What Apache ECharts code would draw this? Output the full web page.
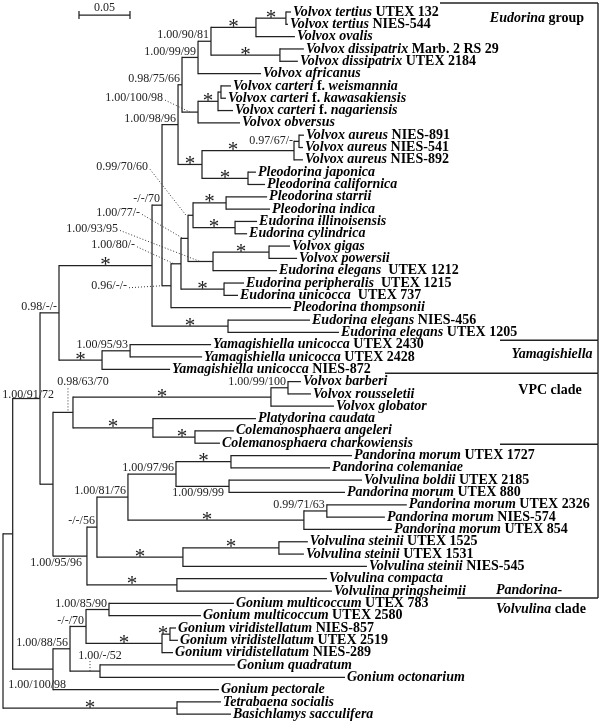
<!DOCTYPE html>
<html>
<head>
<meta charset="utf-8">
<script src="https://cdn.jsdelivr.net/npm/echarts@6/dist/echarts.min.js"></script>
<style>
html, body { margin: 0; background: #fff; }
#chart { width: 600px; height: 721px; }
</style>
</head>
<body>
<div id="chart"></div>
<script>
// taxa in tree order; '|' switches italic (name) / upright (strain)
const taxa = [
    'Volvox tertius|UTEX 132', 'Volvox tertius|NIES-544', 'Volvox ovalis',
    'Volvox dissipatrix|Marb. 2 RS 29', 'Volvox dissipatrix|UTEX 2184', 'Volvox africanus',
    'Volvox carteri|f.|weismannia', 'Volvox carteri|f.|kawasakiensis', 'Volvox carteri|f.|nagariensis',
    'Volvox obversus', 'Volvox aureus|NIES-891', 'Volvox aureus|NIES-541', 'Volvox aureus|NIES-892',
    'Pleodorina japonica', 'Pleodorina californica', 'Pleodorina starrii', 'Pleodorina indica',
    'Eudorina illinoisensis', 'Eudorina cylindrica', 'Volvox gigas', 'Volvox powersii',
    'Eudorina elegans| UTEX 1212', 'Eudorina peripheralis| UTEX 1215', 'Eudorina unicocca| UTEX 737',
    'Pleodorina thompsonii', 'Eudorina elegans|NIES-456', 'Eudorina elegans|UTEX 1205',
    'Yamagishiella unicocca|UTEX 2430', 'Yamagishiella unicocca|UTEX 2428', 'Yamagishiella unicocca|NIES-872',
    'Volvox barberi', 'Volvox rousseletii', 'Volvox globator', 'Platydorina caudata',
    'Colemanosphaera angeleri', 'Colemanosphaera charkowiensis',
    'Pandorina morum|UTEX 1727', 'Pandorina colemaniae', 'Volvulina boldii|UTEX 2185', 'Pandorina morum|UTEX 880',
    'Pandorina morum|UTEX 2326', 'Pandorina morum|NIES-574', 'Pandorina morum|UTEX 854',
    'Volvulina steinii|UTEX 1525', 'Volvulina steinii|UTEX 1531', 'Volvulina steinii|NIES-545',
    'Volvulina compacta', 'Volvulina pringsheimii',
    'Gonium multicoccum|UTEX 783', 'Gonium multicoccum|UTEX 2580',
    'Gonium viridistellatum|NIES-857', 'Gonium viridistellatum|UTEX 2519', 'Gonium viridistellatum|NIES-289',
    'Gonium quadratum', 'Gonium octonarium', 'Gonium pectorale',
    'Tetrabaena socialis', 'Basichlamys sacculifera'
];

// clades as newick (leaf = taxa index, node label = support, '*' = full support)
const volvoxA = '((((0:0.0049,1:0.0020)*:0.0294,2:0.0382)*:0.0441,(3:0.0235,4:0.0176)*:0.0676)1.00/90/81:0.0127,5:0.0618)1.00/99/99:0.0157';
const carteri = '(((6:0.0098,7:0.0049):0.0029,8:0.0147)*:0.0196,9:0.0412)1.00/100/98:0.0157';
const aureusPleo = '(((10:0.0049,11:0.0039)0.97/67/-:0.0049,12:0.0088)*:0.0902,(13:0.0078,14:0.0167)*:0.0451)*:0.0235';
const eudorinaCore = '((((15:0.0402,16:0.0431)*:0.0324,(17:0.0216,18:0.0118)*:0.0412)0.99/70/60:0.0049,((19:0.0206,20:0.0275)*:0.0549,21:0.0627)1.00/93/95:0.0245)1.00/77/-:0.0069,(22:0.0196,23:0.0137)*:0.0422)1.00/80/-:0.0098';
const eudorinaGroup = `((((${volvoxA},${carteri})0.98/75/66:0.0039,${aureusPleo})1.00/98/96:0.0157,(${eudorinaCore},24:0.1176)0.96/-/-:0.0088)-/-/70:0.0098,(25:0.0804,26:0.1088)*:0.0745)*:0.0912`;
const yamagishiella = '((27:0.0794,28:0.0706)1.00/95/93:0.0275,29:0.0667)*:0.0422';
const vpcClade = '(((30:0.0127,31:0.0225)1.00/99/100:0.0167,32:0.0618)*:0.1941,(33:0.1010,(34:0.0382,35:0.0245)*:0.0412)*:0.0784)0.98/63/70:0.0196';
const pandorinaVolvulina = '(((((36:0.1186,37:0.0971)*:0.0539,(38:0.1304,39:0.1137)1.00/99/99:0.0520)1.00/97/96:0.0471,((40:0.0784,41:0.0569)0.99/71/63:0.0225,42:0.0863)*:0.1725)1.00/81/76:0.0304,((43:0.0284,44:0.0245)*:0.0941,45:0.1804)*:0.0843)-/-/56:0.0098,(46:0.1471,47:0.1520)*:0.0882)1.00/95/96:0.0333';
const gonium = '((((48:0.1225,49:0.0902)1.00/85/90:0.0225,((50:0.0059,51:0.0078)*:0.0078,52:0.0108)*:0.0745)-/-/70:0.0157,(53:0.1324,54:0.2402)1.00/-/52:0.0294)1.00/88/56:0.0167,55:0.1627)1.00/100/98:0.0395';
const outgroup = '(56:0.0431,57:0.0529)*:0.1706';
const tree = `((((${eudorinaGroup},${yamagishiella})0.98/-/-:0.0186,(${vpcClade},${pandorinaVolvulina}):0.0127)1.00/91/72:0.0268,${gonium}):0.0095,${outgroup});`;

const scaleBar = 0.05;
const clades = [
    ['{i|Eudorina} {b|group}', 0, 26],
    ['{i|Yamagishiella}', 27, 29],
    ['{b|VPC clade}', 30, 35],
    ['{i|Pandorina-}\n{i|Volvulina} {b|clade}', 36, 47]
];

// ---- layout / styling ----
const FONT = '"Liberation Serif", "Times New Roman", serif';
const LINE = '#222';

// support label placement by node (first-last leaf)
const labelPlace = {
    '6-9': { type: 'leader', dx: -35, dy: -14, tx: -8 },
    '15-18': { type: 'leader', dx: -45, dy: -48, tx: -7 },
    '15-21': { type: 'leader', dx: -48, dy: -26, tx: -5 },
    '19-21': { type: 'leader', dx: -95, dy: -33, tx: -13 },
    '15-23': { type: 'leader', dx: -46, dy: -19, tx: -7 },
    '15-24': { type: 'leader', dx: -44, dy: 0, tx: -9 },
    '30-35': { type: 'vdot', dx: 10, dy: -31, lx: -5, ly: -24 },
    '53-54': { type: 'vdot', dx: 0, dy: -15, lx: -10, ly: -10 },
    '36-47': { type: 'side', dx: -5, dy: 7 },
    '38-39': { type: 'side', dx: -5, dy: 7 },
    '48-55': { type: 'side', dx: 13, dy: 16 },
    '0-47': { type: 'side', dx: 14, dy: -4 },
    '10-11': { type: 'side', dx: -6, dy: -1 }
};
const starShift = { '10-12': -15, '30-32': -10, '40-42': -9, '34-35': 8, '50-51': -3 };
const starDy = 0;

// bracket geometry (px)
const bracketRight = 598;
const bracketTopLine = 440;
const bracketLines = [[8, 500], [4, 385], [1, 500], [7, 457]];  // [y shift below last leaf, start x]
const bracketLabels = [[537, 18, 'center'], [552, 354, 'center'], [550, 390, 'center'], [496, 600, 'left']];

function parseNewick(s) {
    let i = 0;
    function node() {
        const n = { children: [], label: '', length: 0 };
        if (s[i] === '(') {
            i++;
            n.children.push(node());
            while (s[i] === ',') { i++; n.children.push(node()); }
            i++;
        }
        let lab = '';
        while (i < s.length && ':,);'.indexOf(s[i]) < 0) lab += s[i++];
        n.label = lab;
        if (s[i] === ':') {
            i++;
            let num = '';
            while (i < s.length && ',);'.indexOf(s[i]) < 0) num += s[i++];
            n.length = parseFloat(num);
        }
        return n;
    }
    return node();
}

const root = parseNewick(tree);
const nodes = [];
let leafNo = 0;
(function walk(n, parent) {
    n.parent = parent;
    n.x = (parent ? parent.x : 0) + n.length;
    nodes.push(n);
    if (n.children.length) {
        n.children.forEach(c => walk(c, n));
        const a = n.children[0], b = n.children[n.children.length - 1];
        n.y = (a.y + b.y) / 2;
        n.first = a.first;
        n.last = b.last;
    } else {
        n.y = leafNo++;
        n.first = n.last = n.y;
        n.taxon = +n.label;
    }
})(root, null);

const hSegs = nodes.filter(n => n.parent).map(n => [n.parent.x, n.x, n.y]);
const vSegs = nodes.filter(n => n.children.length).map(n => [n.x, n.children[0].y, n.children[n.children.length - 1].y]);
const leaves = nodes.filter(n => !n.children.length).map(n => [n.x, n.y, n.taxon]);
const supports = nodes.filter(n => n.children.length && n.label);

const rich = {
    i: { fontFamily: FONT, fontSize: 14, fontWeight: 'bold', fontStyle: 'italic', fill: '#000' },
    b: { fontFamily: FONT, fontSize: 14, fontWeight: 'bold', fill: '#000' }
};
function richName(s) {
    return s.split('|').map((p, k) => '{' + (k % 2 ? 'b' : 'i') + '|' + p + '}').join(' ');
}

function seg(x1, y1, x2, y2, extra) {
    return { type: 'line', shape: { x1, y1, x2, y2 }, style: Object.assign({ stroke: LINE, lineWidth: 1.25 }, extra || {}) };
}

const chart = echarts.init(document.getElementById('chart'));
chart.setOption({
    animation: false,
    grid: { left: 3, top: 12, width: 597, height: 702.24 },
    xAxis: { type: 'value', min: 0, max: 0.5853, show: false },
    yAxis: { type: 'value', min: 0, max: 57, inverse: true, show: false },
    series: [
        {
            // horizontal branches
            type: 'custom',
            data: hSegs,
            renderItem: function (params, api) {
                const a = api.coord([api.value(0), api.value(2)]);
                const b = api.coord([api.value(1), api.value(2)]);
                return seg(a[0], a[1], b[0], b[1]);
            }
        },
        {
            // vertical connectors
            type: 'custom',
            data: vSegs,
            renderItem: function (params, api) {
                const a = api.coord([api.value(0), api.value(1)]);
                const b = api.coord([api.value(0), api.value(2)]);
                return seg(a[0], a[1] - 0.6, b[0], b[1] + 0.6);
            }
        },
        {
            // taxon names
            type: 'custom',
            data: leaves,
            renderItem: function (params, api) {
                const p = api.coord([api.value(0), api.value(1)]);
                return {
                    type: 'text',
                    style: {
                        x: p[0] + 2, y: p[1], text: richName(taxa[api.value(2)]), rich: rich,
                        align: 'left', verticalAlign: 'middle',
                        fontFamily: FONT, fontSize: 14, fontWeight: 'bold', fill: '#000'
                    }
                };
            }
        },
        {
            // support values
            type: 'custom',
            data: supports.map(n => [n.x, n.y]),
            renderItem: function (params, api) {
                const n = supports[params.dataIndex];
                const p = api.coord([n.x, n.y]);
                const q = api.coord([n.parent.x, n.y]);
                const key = n.first + '-' + n.last;
                if (n.label === '*') {
                    return {
                        type: 'text',
                        style: {
                            x: (p[0] + q[0]) / 2 + (starShift[key] || 0), y: p[1] + starDy, text: '*',
                            align: 'center', verticalAlign: 'middle', fontFamily: FONT, fontSize: 21, fill: '#222'
                        }
                    };
                }
                const s = labelPlace[key] || { type: 'side', dx: -2, dy: -6 };
                const kids = [];
                let align = 'right';
                const tx = p[0] + s.dx, ty = p[1] + s.dy;
                const dots = { stroke: '#333', lineWidth: 1, lineDash: [1, 2] };
                if (s.type === 'leader') {
                    kids.push(seg(tx + 2, ty + 2, p[0] + s.tx, p[1], dots));
                } else if (s.type === 'vdot') {
                    align = 'center';
                    kids.push(seg(p[0] + s.lx, p[1] + s.ly, p[0] + s.lx, p[1], dots));
                }
                kids.push({
                    type: 'text',
                    style: {
                        x: tx, y: ty, text: n.label, align: align, verticalAlign: 'middle',
                        fontFamily: FONT, fontSize: 12, fill: '#222'
                    }
                });
                return { type: 'group', children: kids };
            }
        },
        {
            // scale bar
            type: 'custom',
            data: [[0.0745, scaleBar]],
            renderItem: function (params, api) {
                const a = api.coord([api.value(0), 0]);
                const b = api.coord([api.value(0) + api.value(1), 0]);
                const y = a[1] + 3;
                return {
                    type: 'group',
                    children: [
                        seg(a[0], y, b[0], y),
                        seg(a[0], y - 4, a[0], y + 4),
                        seg(b[0], y - 4, b[0], y + 4),
                        {
                            type: 'text',
                            style: {
                                x: (a[0] + b[0]) / 2, y: y - 7, text: String(api.value(1)),
                                align: 'center', verticalAlign: 'middle', fontFamily: FONT, fontSize: 12, fill: '#222'
                            }
                        }
                    ]
                };
            }
        },
        {
            // clade brackets
            type: 'custom',
            data: clades.map(c => [c[1], c[2]]),
            renderItem: function (params, api) {
                const k = params.dataIndex;
                const first = api.coord([0, api.value(0)])[1];
                const last = api.coord([0, api.value(1)])[1];
                const kids = [];
                const bottom = last + bracketLines[k][0];
                const top = k === 0 ? first - 9 : api.coord([0, clades[k - 1][2]])[1] + bracketLines[k - 1][0];
                if (k === 0) kids.push(seg(bracketTopLine, top, bracketRight, top, { lineWidth: 1.4 }));
                kids.push(seg(bracketRight, top, bracketRight, bottom, { lineWidth: 1.4 }));
                kids.push(seg(bracketLines[k][1], bottom, bracketRight, bottom, { lineWidth: 1.4 }));
                const lp = bracketLabels[k];
                kids.push({
                    type: 'text',
                    style: {
                        x: lp[0], y: lp[1], text: clades[k][0], rich: {
                            i: { fontFamily: FONT, fontSize: 14, fontWeight: 'bold', fontStyle: 'italic', fill: '#000', lineHeight: 19 },
                            b: { fontFamily: FONT, fontSize: 14, fontWeight: 'bold', fill: '#000', lineHeight: 19 }
                        },
                        align: lp[2], verticalAlign: 'middle', fontFamily: FONT, fontSize: 14, fontWeight: 'bold', fill: '#000'
                    }
                });
                return { type: 'group', children: kids };
            }
        }
    ]
});
</script>
</body>
</html>
